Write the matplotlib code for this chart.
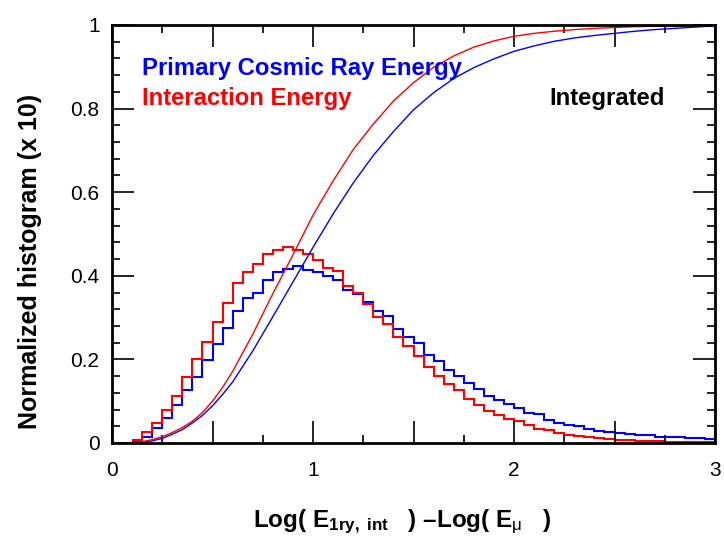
import numpy as np
import matplotlib
matplotlib.use('Agg')
import matplotlib.pyplot as plt
from matplotlib.ticker import MultipleLocator, FuncFormatter

plt.rcParams['font.family'] = ['Liberation Sans', 'DejaVu Sans']
plt.rcParams['mathtext.fontset'] = 'custom'
plt.rcParams['mathtext.rm'] = 'Liberation Sans'
plt.rcParams['mathtext.bf'] = 'Liberation Sans:bold'
plt.rcParams['mathtext.it'] = 'Liberation Sans:italic'

# histogram bins: 0.10 .. 3.00 in steps of 0.05
bin_edges = np.round(np.arange(0.10, 3.0001, 0.05), 2)

# normalized histogram (x 10), one value per bin
hist_primary = [
    0.004, 0.015, 0.035, 0.060, 0.092, 0.126, 0.159, 0.199, 0.237, 0.274,
    0.315, 0.348, 0.360, 0.390, 0.410, 0.416, 0.423, 0.415, 0.408, 0.399,
    0.391, 0.366, 0.356, 0.337, 0.316, 0.305, 0.272, 0.254, 0.240, 0.211,
    0.195, 0.174, 0.160, 0.143, 0.128, 0.113, 0.102, 0.094, 0.084, 0.071,
    0.069, 0.055, 0.049, 0.043, 0.041, 0.033, 0.029, 0.027, 0.025, 0.022,
    0.019, 0.018, 0.015, 0.015, 0.014, 0.011, 0.013, 0.009,
]
hist_interaction = [
    0.007, 0.027, 0.049, 0.079, 0.113, 0.159, 0.201, 0.242, 0.289, 0.336,
    0.382, 0.410, 0.428, 0.452, 0.462, 0.468, 0.462, 0.452, 0.438, 0.418,
    0.411, 0.376, 0.358, 0.332, 0.302, 0.284, 0.254, 0.232, 0.207, 0.181,
    0.160, 0.140, 0.127, 0.106, 0.091, 0.077, 0.068, 0.058, 0.052, 0.042,
    0.034, 0.031, 0.023, 0.019, 0.017, 0.014, 0.011, 0.010, 0.008, 0.006,
    0.005, 0.005, 0.004, 0.003, 0.003, 0.003, 0.002, 0.002,
]

# integrated curves
cum_x = [0.1, 0.15, 0.2, 0.25, 0.3, 0.35, 0.4, 0.45, 0.5, 0.55, 0.6, 0.7, 0.8, 0.9, 1.0,
         1.1, 1.2, 1.3, 1.4, 1.5, 1.6, 1.7, 1.8, 1.9, 2.0,
         2.1, 2.2, 2.3, 2.4, 2.5, 2.6, 2.7, 2.8, 2.9, 3.0]
cum_primary = [0.000, 0.002, 0.005, 0.011, 0.021, 0.032, 0.048, 0.066, 0.089, 0.116,
               0.146, 0.220, 0.302, 0.385, 0.468,
               0.548, 0.622, 0.688, 0.745, 0.797, 0.838, 0.872, 0.898, 0.919, 0.937,
               0.950, 0.961, 0.969, 0.975, 0.980, 0.985, 0.989, 0.992, 0.995, 0.998]
cum_interaction = [0.000, 0.003, 0.008, 0.015, 0.025, 0.037, 0.052, 0.073, 0.100, 0.133,
                   0.171, 0.260, 0.357, 0.450, 0.545,
                   0.627, 0.702, 0.763, 0.818, 0.862, 0.899, 0.926, 0.947, 0.962, 0.973,
                   0.980, 0.985, 0.989, 0.992, 0.994, 0.996, 0.997, 0.998, 0.999, 1.000]

fig = plt.figure(figsize=(7.24, 5.39), dpi=100)
ax = fig.add_axes([112 / 724, 96 / 539, 603 / 724, 418 / 539])

ax.stairs(hist_primary, bin_edges, color='blue', lw=1.5, baseline=None)
ax.stairs(hist_interaction, bin_edges, color='red', lw=1.5, baseline=None)
ax.plot(cum_x, cum_primary, color='blue', lw=1.0)
ax.plot(cum_x, cum_interaction, color='red', lw=1.0)

ax.set_xlim(0, 3)
ax.set_ylim(0, 1)
ax.xaxis.set_major_locator(MultipleLocator(0.5))
ax.xaxis.set_minor_locator(MultipleLocator(0.25))
ax.xaxis.set_major_formatter(FuncFormatter(
    lambda v, p: f'{v:g}' if abs(v - round(v)) < 1e-6 else ''))
ax.yaxis.set_major_locator(MultipleLocator(0.2))
ax.yaxis.set_minor_locator(MultipleLocator(0.04))
ax.yaxis.set_major_formatter(FuncFormatter(lambda v, p: f'{v:g}'))

ax.tick_params(which='both', direction='in', top=True, right=True, width=1.2)
ax.tick_params(which='major', length=16)
ax.tick_params(which='minor', length=5.5)
ax.tick_params(axis='x', pad=13, labelsize=15)
ax.tick_params(axis='y', pad=9, labelsize=15)
for s in ax.spines.values():
    s.set_linewidth(2)

ax.text(0.050, 0.880, 'Primary Cosmic Ray Energy', color='blue',
        fontsize=17.2, fontweight='bold', transform=ax.transAxes, va='baseline')
ax.text(0.050, 0.809, 'Interaction Energy', color='red',
        fontsize=17.2, fontweight='bold', transform=ax.transAxes, va='baseline')
ax.text(0.917, 0.809, 'Integrated', color='black', ha='right',
        fontsize=17.2, fontweight='bold', transform=ax.transAxes, va='baseline')

xlabel = ('Log( E$_{\\mathbf{1ry,\\ int}}$\\ \\ ) \u2013Log( E$_{\\mathrm{\\mu}}$\\ \\ )')
fig.text(402 / 724, (539 - 527) / 539, xlabel.replace('$\\ \\ ', '$   '),
         ha='center', va='baseline', fontsize=17.5, fontweight='bold')
fig.text(30 / 724, 1 - 261 / 539, 'Normalized histogram (x 10)',
         rotation=90, ha='center', va='center', fontsize=18, fontweight='bold')

fig.savefig('out.png', dpi=100)
